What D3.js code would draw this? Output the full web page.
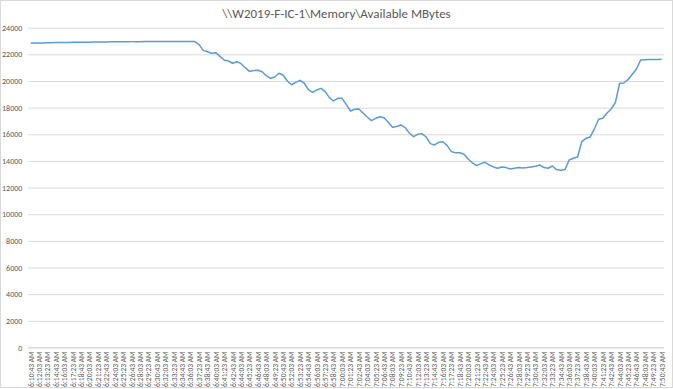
<!DOCTYPE html>
<html>
<head>
<meta charset="utf-8">
<script src="https://cdn.jsdelivr.net/npm/d3@7/dist/d3.min.js"></script>
<style>
  body { margin: 0; background: #fff; }
  svg text { font-family: Calibri, Carlito, "Open Sans", "Liberation Sans", sans-serif; fill: #595959; }
</style>
</head>
<body>
<div id="chart"></div>
<script>
// category labels on the x axis (one every 80 s)
var timeLabels = [
  "6:10:43 AM","6:12:03 AM","6:13:23 AM","6:14:43 AM","6:16:03 AM","6:17:23 AM","6:18:43 AM","6:20:03 AM",
  "6:21:23 AM","6:22:43 AM","6:24:03 AM","6:25:23 AM","6:26:43 AM","6:28:03 AM","6:29:23 AM","6:30:43 AM",
  "6:32:03 AM","6:33:23 AM","6:34:43 AM","6:36:03 AM","6:37:23 AM","6:38:43 AM","6:40:03 AM","6:41:23 AM",
  "6:42:43 AM","6:44:03 AM","6:45:23 AM","6:46:43 AM","6:48:03 AM","6:49:23 AM","6:50:43 AM","6:52:03 AM",
  "6:53:23 AM","6:54:43 AM","6:56:03 AM","6:57:23 AM","6:58:43 AM","7:00:03 AM","7:01:23 AM","7:02:43 AM",
  "7:04:03 AM","7:05:23 AM","7:06:43 AM","7:08:03 AM","7:09:23 AM","7:10:43 AM","7:12:03 AM","7:13:23 AM",
  "7:14:43 AM","7:16:03 AM","7:17:23 AM","7:18:43 AM","7:20:03 AM","7:21:23 AM","7:22:43 AM","7:24:03 AM",
  "7:25:23 AM","7:26:43 AM","7:28:03 AM","7:29:23 AM","7:30:43 AM","7:32:03 AM","7:33:23 AM","7:34:43 AM",
  "7:36:03 AM","7:37:23 AM","7:38:43 AM","7:40:03 AM","7:41:23 AM","7:42:43 AM","7:44:03 AM","7:45:23 AM",
  "7:46:43 AM","7:48:03 AM","7:49:23 AM","7:50:43 AM"
];

var yTicks = [0, 2000, 4000, 6000, 8000, 10000, 12000, 14000, 16000, 18000, 20000, 22000, 24000];

// Available MBytes, sampled every 40 s (two per label step)
var availableMB = [
  22850, 22850, 22860, 22860, 22870, 22870, 22880, 22880, 22890, 22890,
  22900, 22900, 22900, 22910, 22910, 22920, 22920, 22930, 22930, 22940,
  22940, 22950, 22950, 22950, 22955, 22955, 22955, 22960, 22960, 22960,
  22960, 22960, 22960, 22960, 22960, 22960, 22960, 22960, 22960, 22960,
  22750, 22300, 22200, 22080, 22125, 21850, 21575, 21500, 21330, 21450,
  21300, 21000, 20720, 20780, 20800, 20700, 20400, 20200, 20300, 20580,
  20450, 20000, 19720, 19900, 20050, 19850, 19350, 19150, 19330, 19450,
  19200, 18750, 18500, 18700, 18700, 18250, 17750, 17880, 17900, 17600,
  17300, 17030, 17200, 17320, 17250, 16900, 16530, 16580, 16700, 16500,
  16100, 15820, 16000, 16050, 15800, 15300, 15200, 15400, 15445, 15150,
  14700, 14620, 14620, 14500, 14150, 13850, 13650, 13800, 13900, 13700,
  13550, 13450, 13550, 13500, 13400, 13450, 13500, 13480, 13500, 13550,
  13600, 13700, 13500, 13450, 13620, 13350, 13300, 13350, 14070, 14200,
  14300, 15445, 15700, 15800, 16400, 17125, 17200, 17600, 17900, 18400,
  19830, 19850, 20100, 20500, 20900, 21580, 21600, 21610, 21620, 21620,
  21630
];

var svgWidth = 673;
var svgHeight = 389;

var plot = { left: 28.3, right: 664, top: 27.7, bottom: 347.5 };

var svg = d3.select("#chart")
  .append("svg")
  .attr("width", svgWidth)
  .attr("height", svgHeight);

// chart border
svg.append("rect")
  .attr("x", 0.5).attr("y", 0.5)
  .attr("width", svgWidth - 1).attr("height", svgHeight - 2)
  .attr("fill", "none")
  .attr("stroke", "#d9d9d9");

// title
svg.append("text")
  .attr("x", svgWidth / 2)
  .attr("y", 18)
  .attr("text-anchor", "middle")
  .attr("font-size", 13)
  .text("\\\\W2019-F-IC-1\\Memory\\Available MBytes");

var yScale = d3.scaleLinear()
  .domain([0, 24000])
  .range([plot.bottom, plot.top]);

var xLabel = d3.scalePoint()
  .domain(timeLabels)
  .range([30.7, 661.7]);

var xIndex = d3.scaleLinear()
  .domain([0, availableMB.length - 1])
  .range([30.7, 661.7]);

// gridlines + y labels
var yAxis = d3.axisLeft(yScale)
  .tickValues(yTicks)
  .tickSize(-(plot.right - plot.left))
  .tickPadding(6)
  .tickFormat(d3.format("d"));

var yG = svg.append("g")
  .attr("transform", `translate(${plot.left},0)`)
  .call(yAxis);
yG.select(".domain").remove();
yG.selectAll(".tick line").attr("stroke", "#d9d9d9");
yG.selectAll(".tick text")
  .attr("font-size", 8)
  .attr("fill", "#595959");

// x axis
var xAxis = d3.axisBottom(xLabel)
  .tickSize(0)
  .tickPadding(0);

var xG = svg.append("g")
  .attr("transform", `translate(0,${plot.bottom})`)
  .call(xAxis);
xG.select(".domain").remove();
xG.selectAll(".tick text")
  .attr("font-size", 7.5)
  .attr("fill", "#595959")
  .attr("transform", "rotate(-90)")
  .attr("text-anchor", "end")
  .attr("x", -4)
  .attr("y", 0)
  .attr("dy", "0.32em");

svg.append("line")
  .attr("x1", plot.left).attr("x2", plot.right)
  .attr("y1", plot.bottom).attr("y2", plot.bottom)
  .attr("stroke", "#d9d9d9");

// series line
var line = d3.line()
  .x((d, i) => xIndex(i))
  .y(d => yScale(d));

svg.append("path")
  .datum(availableMB)
  .attr("fill", "none")
  .attr("stroke", "#5b9bd5")
  .attr("stroke-width", 1.5)
  .attr("stroke-linejoin", "round")
  .attr("d", line);
</script>
</body>
</html>
